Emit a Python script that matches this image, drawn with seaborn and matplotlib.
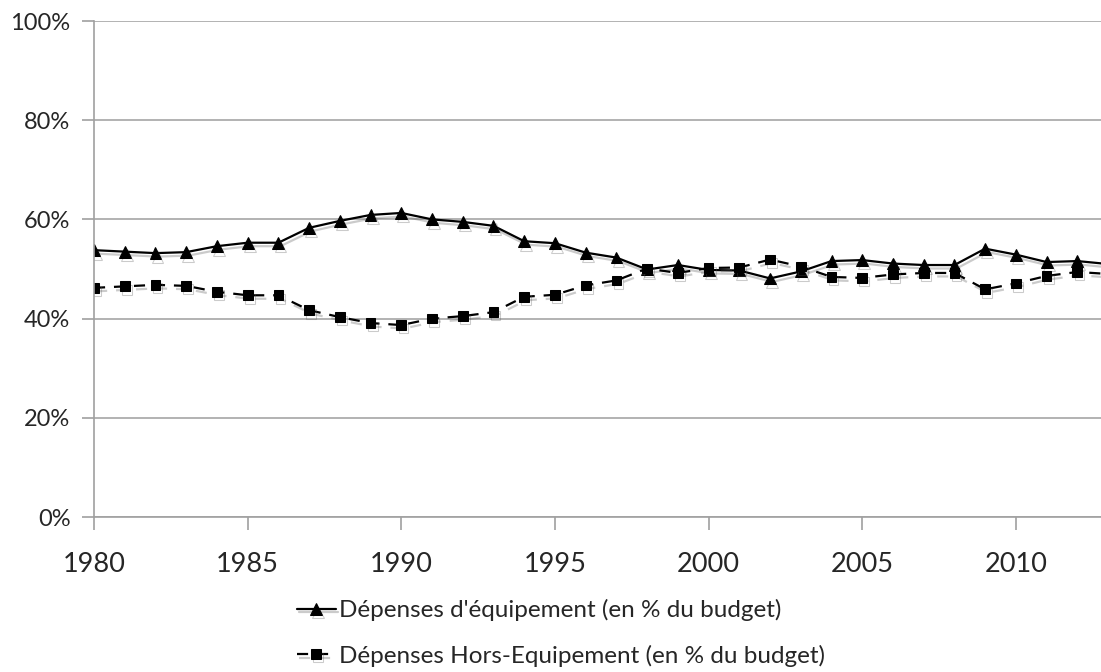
import matplotlib
matplotlib.use("Agg")
import matplotlib.pyplot as plt
import matplotlib.patheffects as pe
import seaborn as sns
import pandas as pd
from matplotlib.ticker import FuncFormatter, MultipleLocator

years = list(range(1980, 2014))

equipement = [53.8, 53.5, 53.2, 53.4, 54.6, 55.3, 55.3, 58.3, 59.7, 60.9,
              61.3, 60.0, 59.5, 58.7, 55.6, 55.2, 53.3, 52.3, 49.9, 50.8,
              49.8, 49.7, 48.1, 49.5, 51.6, 51.8, 51.1, 50.8, 50.8, 54.1,
              52.9, 51.4, 51.6, 51.0]

hors_equipement = [46.2, 46.5, 46.8, 46.6, 45.4, 44.7, 44.7, 41.7, 40.3, 39.1,
                   38.7, 40.0, 40.5, 41.3, 44.4, 44.8, 46.7, 47.7, 50.1, 49.2,
                   50.2, 50.3, 51.9, 50.5, 48.4, 48.2, 48.9, 49.2, 49.2, 45.9,
                   47.1, 48.6, 49.4, 49.0]

label_eq = "Dépenses d'équipement (en % du budget)"
label_hors = "Dépenses Hors-Equipement (en % du budget)"

df = pd.DataFrame({"annee": years, "eq": equipement, "hors": hors_equipement})

sns.set_theme(style="white")
plt.rcParams['font.family'] = ['Lato', 'DejaVu Sans']

fig = plt.figure(figsize=(11.01, 6.72), dpi=100)
ax = fig.add_axes([94 / 1101, 155 / 672, 1 - 94 / 1101, 496 / 672])

shadow = [pe.SimpleLineShadow(offset=(1.5, -2.5), shadow_color='#555555', alpha=0.3), pe.Normal()]

sns.lineplot(data=df, x="annee", y="eq", ax=ax, color="black", linewidth=1.6,
             marker="^", markersize=8.5, markeredgecolor="black", label=label_eq,
             path_effects=shadow)
sns.lineplot(data=df, x="annee", y="hors", ax=ax, color="black", linewidth=1.6,
             linestyle=(0, (5, 4)), marker="s", markersize=7, markeredgecolor="black",
             label=label_hors, path_effects=shadow)

ax.set_xlim(1980, 1980 + (1101 - 94) / 30.73)
ax.set_ylim(0, 100)
ax.yaxis.set_major_locator(MultipleLocator(20))
ax.xaxis.set_major_locator(MultipleLocator(5))
ax.yaxis.set_major_formatter(FuncFormatter(lambda v, p: f"{int(v)}%"))
ax.grid(axis='y', color='#a6a6a6', linewidth=1.2)
ax.set_axisbelow(True)

for s in ['top', 'right']:
    ax.spines[s].set_visible(False)
for s in ['left', 'bottom']:
    ax.spines[s].set_color('#a0a0a0')
    ax.spines[s].set_linewidth(1.2)

ax.tick_params(axis='both', which='major', direction='out', length=9, width=1.2,
               color='#a0a0a0', left=True, bottom=True)
ax.tick_params(axis='y', labelsize=17, pad=8)
ax.tick_params(axis='x', labelsize=19.5, pad=16)
ax.set_xlabel("")
ax.set_ylabel("")

ax.legend(loc='center', bbox_to_anchor=(561 / 1101, 1 - 633 / 672),
          bbox_transform=fig.transFigure, frameon=False, fontsize=17.5,
          handlelength=1.6, handletextpad=0.15, labelspacing=0.95, ncol=1,
          borderpad=0.2)

fig.savefig("out.png", dpi=100)
